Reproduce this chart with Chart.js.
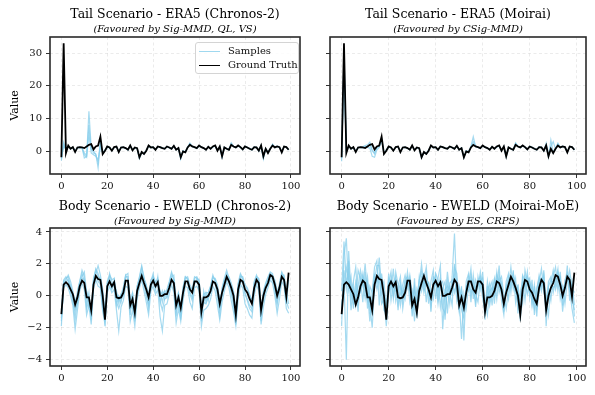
<!DOCTYPE html>
<html><head><meta charset="utf-8">
<script src="https://cdn.jsdelivr.net/npm/chart.js@4.4.0/dist/chart.umd.min.js"></script>
<style>
body{margin:0;background:#fff;width:595px;height:395px;overflow:hidden;position:relative;font-family:'DejaVu Serif',serif;}
canvas{position:absolute;}
#legend{position:absolute;left:195px;top:42px;width:104px;height:32px;border:1px solid #d4d4d4;border-radius:3px;background:rgba(255,255,255,0.85);font-size:10px;box-sizing:border-box;color:#111;}
#legend .row{position:absolute;left:3px;height:12px;line-height:12px;white-space:nowrap;}
#legend .sw{display:inline-block;width:21px;height:0;vertical-align:middle;margin-right:8px;}
</style></head>
<body>
<canvas id="c1" width="310" height="195" style="left:0;top:0"></canvas>
<canvas id="c2" width="285" height="195" style="left:310px;top:0"></canvas>
<canvas id="c3" width="310" height="200" style="left:0;top:195px"></canvas>
<canvas id="c4" width="285" height="200" style="left:310px;top:195px"></canvas>
<div id="legend">
  <div class="row" style="top:2px"><span class="sw" style="border-top:1.5px solid rgba(135,206,235,0.8)"></span>Samples</div>
  <div class="row" style="top:16px"><span class="sw" style="border-top:1.8px solid #000"></span>Ground Truth</div>
</div>
<script>
const xTicks = [0, 20, 40, 60, 80, 100];
const yTicksTail = [0, 10, 20, 30];
const yTicksBody = [-4, -2, 0, 2, 4];

const titles = ["Tail Scenario - ERA5 (Chronos-2)", "Tail Scenario - ERA5 (Moirai)", "Body Scenario - EWELD (Chronos-2)", "Body Scenario - EWELD (Moirai-MoE)"];
const subtitles = ["(Favoured by Sig-MMD, QL, VS)", "(Favoured by CSig-MMD)", "(Favoured by Sig-MMD)", "(Favoured by ES, CRPS)"];

const gtTail = [-1.8,33.0,-0.5,1.8,0.8,1.3,-0.2,1.2,1.3,1.2, 1.0,1.5,2.0,2.2,0.6,1.5,1.8,4.5,-0.8,0.2, 1.5,1.2,0.2,1.3,1.5,-0.2,1.2,1.3,1.0,0.5, 1.8,0.3,1.2,1.0,-1.8,-0.2,-0.8,0.2,1.8,1.2, 1.3,0.5,1.5,1.3,1.0,0.8,1.5,1.2,0.8,1.7, 0.5,1.0,-1.8,0.0,-0.3,1.2,2.0,1.5,1.3,1.0, 1.8,1.3,1.0,0.5,1.4,0.8,1.5,1.8,0.2,1.5, -1.5,1.2,0.8,0.5,2.0,1.5,1.2,1.8,1.3,0.6, 1.5,1.2,0.8,0.5,1.3,1.2,0.2,1.8,-1.5,0.8, -0.5,0.8,1.8,1.2,1.5,1.3,-0.3,1.5,1.3,0.5];

const tailChronosS1 = [-2.8,2.8,0.3,1.5,1.0,1.1,0.2,1.0,1.2,1.0, -1.0,-1.8,12.2,1.0,-0.5,-0.8,-5.0,2.5,-0.3,0.4, 1.3,1.0,0.4,1.2,1.3,0.0,1.1,1.2,0.9,0.6, 1.6,0.5,1.1,0.8,-2.2,-0.5,-0.6,0.4,1.6,1.1, 1.2,0.6,1.4,1.2,0.9,0.9,1.3,1.1,0.9,1.5, 0.6,0.9,-2.3,0.2,-0.1,1.1,2.3,1.4,1.2,1.1, 1.6,1.2,1.1,0.6,1.3,0.9,1.3,1.6,0.4,1.3, -1.9,1.1,0.9,0.6,2.3,1.4,1.3,1.6,1.2,0.7, 1.4,1.1,0.9,0.6,1.2,1.1,0.3,1.6,-2.3,0.9, -0.3,0.9,2.1,1.1,1.4,1.2,-0.1,1.4,1.2,0.6];
const tailChronosS2 = [-1.5,1.5,0.8,1.6,0.7,1.2,0.0,1.3,1.1,1.1, -0.5,-1.2,8.0,-0.5,-1.0,-1.5,-2.5,1.5,-0.5,0.3, 1.4,1.1,0.3,1.2,1.4,-0.1,1.2,1.2,1.0,0.4, 1.7,0.4,1.2,0.9,-1.5,-0.3,-0.7,0.3,1.7,1.2, 1.3,0.4,1.5,1.3,1.1,0.7,1.5,1.2,0.7,1.6, 0.5,1.1,-1.5,0.1,-0.2,1.3,2.5,1.6,1.2,0.9, 1.7,1.4,0.9,0.5,1.5,0.7,1.4,1.7,0.3,1.4, -1.2,1.3,0.7,0.4,2.6,1.6,1.1,1.7,1.4,0.5, 1.6,1.3,0.7,0.4,1.4,1.3,0.1,1.7,-1.8,0.7, -0.4,0.7,2.2,1.3,1.6,1.4,-0.2,1.5,1.4,0.4];
const tailChronosS3 = [-2.2,2.2,0.5,1.7,0.9,1.3,-0.1,1.1,1.3,1.2, -2.0,-1.5,5.0,0.5,0.2,-1.0,-3.5,3.0,-0.2,0.2, 1.5,1.2,0.2,1.3,1.5,-0.2,1.2,1.3,1.0,0.5, 1.8,0.3,1.2,1.0,-1.9,-0.2,-0.8,0.2,1.8,1.2, 1.3,0.5,1.5,1.3,1.0,0.8,1.5,1.2,0.8,1.7, 0.5,1.0,-1.9,0.0,-0.3,1.2,2.1,1.5,1.3,1.0, 1.8,1.3,1.0,0.5,1.4,0.8,1.5,1.8,0.2,1.5, -1.6,1.2,0.8,0.5,2.1,1.5,1.2,1.8,1.3,0.6, 1.5,1.2,0.8,0.5,1.3,1.2,0.2,1.8,-1.6,0.8, -0.5,0.8,1.9,1.2,1.5,1.3,-0.3,1.5,1.3,0.5];

const tailMoiraiS1 = [-3.0,30.0,0.5,1.5,1.0,1.0,0.1,1.1,1.2,1.4, 1.8,2.0,2.8,0.5,-0.5,1.2,1.5,3.5,-0.5,0.5, 1.3,1.1,0.4,1.2,1.3,0.0,1.1,1.2,0.9,0.6, 1.6,0.5,1.1,0.8,-2.0,-0.4,-0.6,0.4,1.6,1.1, 1.2,0.6,1.4,1.2,0.9,0.9,1.3,1.1,0.9,1.5, 0.6,0.9,-1.9,0.2,-0.1,1.5,4.5,1.4,1.2,1.1, 1.6,1.2,1.1,0.6,1.3,0.9,1.3,1.6,0.4,1.3, -1.7,1.1,0.9,0.6,2.4,1.4,1.3,1.6,1.2,0.7, 1.4,1.1,0.9,0.6,1.2,1.1,0.3,1.6,-1.8,3.5, -0.3,0.9,2.5,1.1,1.4,1.2,-0.1,1.4,1.2,0.6];
const tailMoiraiS2 = [-1.0,25.0,0.2,1.7,0.7,1.2,0.0,1.3,1.1,1.0, 1.5,1.2,1.0,-1.5,-1.8,0.5,1.2,3.8,-0.6,0.3, 1.4,1.1,0.3,1.2,1.4,-0.1,1.2,1.2,1.0,0.4, 1.7,0.4,1.2,0.9,-1.5,-0.3,-0.7,0.3,1.7,1.2, 1.3,0.4,1.5,1.3,1.1,0.7,1.5,1.2,0.7,1.6, 0.5,1.1,-1.6,0.1,-0.2,1.3,3.0,1.6,1.2,0.9, 1.7,1.4,0.9,0.5,1.5,0.7,1.4,1.7,0.3,1.4, -1.3,1.3,0.7,0.4,2.6,1.6,1.1,1.7,1.4,0.5, 1.6,1.3,0.7,0.4,1.4,1.3,0.1,2.5,-1.0,1.5, 3.0,0.7,2.2,1.3,1.6,1.4,-0.2,1.5,1.4,0.4];
const tailMoiraiS3 = [-2.0,28.0,-0.3,1.6,0.9,1.3,-0.1,1.1,1.3,1.3, 1.2,1.6,2.2,0.2,-0.8,1.4,1.7,4.0,-0.7,0.2, 1.5,1.2,0.2,1.3,1.5,-0.2,1.2,1.3,1.0,0.5, 1.8,0.3,1.2,1.0,-1.8,-0.2,-0.8,0.2,1.8,1.2, 1.3,0.5,1.5,1.3,1.0,0.8,1.5,1.2,0.8,1.7, 0.5,1.0,-1.8,0.0,-0.3,1.2,2.2,1.5,1.3,1.0, 1.8,1.3,1.0,0.5,1.4,0.8,1.5,1.8,0.2,1.5, -1.5,1.2,0.8,0.5,2.0,1.5,1.2,1.8,1.3,0.6, 1.5,1.2,0.8,0.5,1.3,1.2,0.2,1.8,-1.5,0.8, -0.5,0.8,1.8,1.2,1.5,1.3,-0.3,1.5,1.3,0.5];

const gtBody = [-1.15,0.7,0.85,0.7,0.4,0.1,-0.55,-0.1,0.6,0.95, 0.8,-0.1,-0.1,-0.9,0.7,1.25,1.05,1.0,0.0,-1.5, 0.6,0.9,0.6,0.85,-0.1,-0.15,-0.1,0.2,0.95,0.95, -0.6,-0.2,-1.05,0.3,0.8,1.25,0.8,0.4,-0.1,0.7, 0.95,0.6,0.85,0.0,0.0,0.1,0.1,0.5,1.0,0.8, -0.6,-0.1,-0.75,0.2,0.9,0.9,0.4,0.2,0.9,0.9, 0.7,-1.0,-0.1,-0.1,0.0,0.3,0.9,0.8,0.4,-0.5, 0.2,0.7,1.2,0.9,0.5,0.0,-1.2,0.4,1.0,0.9, 0.4,0.2,-0.2,-0.5,0.5,1.0,0.8,-0.9,0.0,0.5, 0.8,1.3,1.2,0.7,0.0,0.5,1.2,1.0,-0.05,1.45];

const bodyChronosS1 = [-1.9,0.9,1.1,1.2,0.6,-0.4,-1.0,0.3,0.9,1.6, 1.2,-0.6,0.2,-1.5,1.0,1.7,1.4,0.9,-0.5,-1.9, 0.8,1.2,0.5,1.0,-0.6,0.0,-0.4,0.5,1.3,1.4, -1.2,0.2,-1.6,0.6,1.1,1.8,1.2,0.2,-0.8,0.9, 1.4,0.4,1.2,-0.5,0.3,-0.2,0.4,0.9,1.5,1.0, -1.3,0.2,-1.5,0.5,1.2,1.1,0.1,-0.3,1.1,1.2, 0.9,-1.6,0.3,-0.4,0.2,0.6,1.2,1.0,0.0,-1.2, 0.5,1.1,1.6,1.1,0.2,-0.6,-1.8,0.8,1.4,1.1, 0.1,-0.3,-0.8,-1.0,0.9,1.3,0.9,-1.6,0.3,0.8, 1.2,1.5,1.4,0.3,-0.6,0.8,1.5,1.2,-0.5,1.0];
const bodyChronosS2 = [-0.9,0.8,1.0,1.3,0.9,0.3,-0.8,-0.5,0.8,1.2, 1.5,0.2,-0.7,-1.2,0.9,1.4,1.9,1.3,0.4,-1.2, 0.4,1.4,0.9,0.6,0.3,-0.5,0.1,0.0,1.2,1.2, -0.2,-0.8,-0.7,0.1,1.0,1.4,1.1,0.7,-0.4,0.5, 1.2,0.9,0.7,0.3,-0.4,0.3,-0.1,0.7,1.2,1.3, -0.3,-0.6,-1.1,0.0,1.1,1.2,0.7,0.4,0.7,1.1, 1.0,-0.7,-0.5,0.2,-0.3,0.5,1.1,1.1,0.7,-0.3, 0.0,0.9,1.4,1.2,0.8,0.3,-0.9,0.1,1.2,1.2, 0.7,0.5,0.1,-0.3,0.3,1.2,1.1,-0.5,-0.3,0.6, 1.0,1.4,1.3,1.0,0.3,0.2,1.3,1.3,0.3,1.2];
const bodyChronosS3 = [-1.4,0.5,0.7,0.5,0.0,-0.6,-2.1,-0.9,0.3,0.8, 0.4,-1.2,-0.6,-1.8,0.4,1.0,0.6,0.5,-1.0,-1.7, 0.2,0.6,0.2,0.4,-0.9,-2.2,-0.7,-0.3,0.6,0.5, -1.6,-0.9,-1.9,-0.2,0.5,1.0,0.3,-0.4,-1.2,0.3, 0.6,0.1,0.4,-1.3,-2.2,-0.6,-0.5,0.1,0.7,0.2, -1.7,-0.8,-1.6,-0.3,0.6,0.5,-0.4,-0.8,0.5,0.6, 0.3,-1.9,-0.9,-0.8,-0.6,-0.2,0.6,0.3,-0.6,-1.5, -0.4,0.3,0.9,0.5,-0.3,-1.0,-1.9,-0.2,0.7,0.5, -0.5,-0.8,-1.2,-1.4,0.0,0.7,0.3,-1.8,-0.7,0.1, 0.5,1.0,0.8,0.0,-1.1,-0.2,0.9,0.6,-0.8,-1.1];
const bodyChronosS4 = [-1.2,1.0,1.2,0.9,0.6,0.2,-0.3,0.1,0.9,1.4, 0.9,0.3,-0.2,-1.0,1.1,1.6,1.2,1.1,0.3,-1.1, 0.9,1.3,1.0,1.1,0.2,-0.3,0.1,0.5,1.3,1.0, -0.4,0.2,-1.0,0.6,1.2,1.9,1.0,0.6,0.1,1.0, 1.2,0.8,1.1,0.3,0.1,0.3,0.3,0.8,1.4,1.0, -0.5,0.2,-0.6,0.5,1.2,1.0,0.5,0.4,1.2,1.1, 0.8,-0.9,0.1,0.2,0.2,0.6,1.3,0.9,0.5,-0.4, 0.4,1.0,1.3,1.0,0.6,0.2,-1.0,0.7,1.3,1.0, 0.6,0.4,0.0,-0.3,0.8,1.2,1.0,-0.8,0.2,0.7, 1.1,1.4,1.2,0.8,0.2,0.7,1.4,1.1,0.2,-0.5];
const bodyChronosS5 = [-1.6,0.6,0.9,1.0,0.2,-0.2,-1.5,-0.3,0.5,1.1, 1.0,-0.8,-0.3,-1.3,0.6,1.3,0.9,0.7,-0.7,-1.4, 0.5,0.9,0.4,0.7,-0.4,-0.8,-0.3,0.1,0.9,0.8, -0.9,-0.5,-1.3,0.1,0.9,1.5,0.6,0.0,-0.6,0.5, 0.9,0.5,0.8,-0.3,-0.9,-0.2,-0.1,0.4,1.1,0.6, -1.0,-0.3,-1.2,0.1,0.8,0.8,0.2,-0.1,0.8,0.9, 0.5,-1.3,-0.4,-0.5,-0.1,0.2,0.9,0.7,0.1,-0.9, 0.0,0.6,1.1,0.8,0.2,-0.4,-1.5,0.3,0.9,0.8, 0.2,-0.2,-0.6,-0.8,0.4,0.9,0.6,-1.2,-0.2,0.4, 0.7,1.2,1.0,0.5,-0.4,0.3,1.1,0.9,-0.3,-0.8];

const bodyMoiraiS1 = [-1.9,2.5,3.6,0.4,1.2,-0.8,0.5,-1.0,1.2,0.6, 2.0,0.2,-1.6,0.3,1.8,2.2,-0.6,1.4,0.2,-1.5, 1.0,0.3,1.7,-0.3,0.6,1.2,-0.8,0.3,1.5,0.2, -0.9,1.1,-1.4,0.8,2.0,0.5,1.3,-0.5,0.9,1.6, -0.2,1.1,1.9,-2.1,0.4,0.6,-0.5,1.2,3.9,0.2, -1.0,0.6,-2.8,0.9,1.4,0.1,0.8,-0.7,1.2,0.4, 1.5,-1.1,0.3,0.8,-0.6,1.0,0.5,1.9,-0.3,-1.2, 0.9,1.4,0.2,1.6,-0.4,0.7,-1.6,1.1,0.4,1.5, -0.1,1.0,-1.2,0.3,1.3,0.6,1.6,-1.9,0.5,-0.3, 1.2,1.8,0.3,1.5,-0.6,1.0,1.4,0.4,-0.8,-1.7];
const bodyMoiraiS2 = [-1.2,1.0,-4.0,2.8,0.2,0.9,1.8,-0.4,0.5,1.4, 0.3,1.2,-0.5,-2.0,0.6,1.0,2.4,0.5,0.9,-0.8, 1.4,-0.3,0.8,1.2,-0.5,0.1,0.7,1.3,0.5,1.3, 0.2,-1.6,0.4,-0.2,1.2,1.4,-0.4,0.9,-1.0,1.2, 1.0,-0.5,0.7,0.9,-0.3,1.5,0.2,-0.6,1.8,1.4, -0.2,-2.7,0.1,-0.8,0.7,1.7,-0.2,1.0,0.5,1.5, 0.3,-0.4,-1.2,0.5,0.9,-0.5,1.3,0.9,1.2,0.1, -0.8,0.5,1.8,0.4,1.1,-1.1,0.3,-0.5,1.6,0.8, 1.1,-0.6,0.6,-1.3,0.8,1.7,0.2,-0.4,0.9,1.2, 0.2,1.0,1.7,-0.2,0.6,-0.5,0.9,1.6,0.5,0.2];
const bodyMoiraiS3 = [0.3,3.4,0.8,1.5,-0.9,0.4,-0.3,1.6,1.1,-0.4, 1.5,-0.8,0.6,0.2,1.2,0.4,1.1,-0.5,-0.2,-1.9, 0.2,1.1,0.0,1.5,0.7,-0.6,0.4,-0.2,1.0,0.7, -1.3,0.3,-0.6,1.2,0.3,1.0,1.8,0.1,0.4,-0.2, 1.4,1.0,-0.7,0.5,0.9,-1.1,0.8,1.0,0.2,0.9, 0.5,-0.9,-1.4,0.5,1.2,-0.4,1.3,0.1,-0.4,1.0, 0.6,-1.5,0.6,-0.6,0.3,1.1,-0.2,1.3,0.6,-0.8, 0.6,-0.2,1.2,0.8,0.2,0.6,-1.4,0.9,-0.3,1.2, 0.9,-0.5,0.7,-0.8,0.2,0.8,1.3,-0.2,-1.2,0.8, 1.6,0.4,1.0,1.2,-1.0,0.4,1.9,-0.3,0.9,-0.6];
const bodyMoiraiS4 = [-0.6,0.4,1.8,1.0,0.6,-0.5,0.9,0.3,0.2,1.2, 0.7,-0.3,0.2,-1.2,1.0,1.9,1.9,0.1,-0.6,-1.2, 0.4,0.8,0.5,0.3,0.2,0.8,-0.3,0.9,0.6,1.1, -0.5,0.6,-1.2,0.4,0.6,0.9,0.7,0.4,-0.4,1.1, 0.7,0.3,1.2,-0.8,-1.1,0.3,0.6,0.1,2.0,0.6, -0.8,0.4,-0.5,0.1,0.9,1.0,0.2,0.6,0.6,0.8, 1.1,-0.5,0.0,0.3,0.5,0.0,1.0,0.6,0.2,-0.3, 0.3,1.0,1.1,1.2,0.3,0.1,-0.8,0.5,1.2,0.7, 0.2,0.6,-0.4,-0.2,0.9,1.1,0.6,-0.9,0.3,0.4, 0.9,1.2,1.4,0.6,0.3,0.8,1.0,1.2,-0.2,-0.9];
const bodyMoiraiS5 = [-1.0,1.6,0.4,2.2,-0.3,0.7,-0.6,0.6,1.6,0.9, -0.2,0.8,-1.0,-0.6,1.3,0.8,1.4,0.9,-0.9,-1.1, 0.8,1.5,-0.2,0.9,-0.9,0.5,0.2,1.0,1.2,-0.4, 0.3,-0.8,-0.3,1.0,1.5,0.2,0.9,0.8,-0.7,0.6, 1.3,-0.2,0.9,0.2,-1.5,0.9,0.1,0.7,1.3,-0.3, 0.6,-0.2,-0.9,0.6,0.3,1.3,0.5,-0.4,0.9,1.2, -0.2,-0.9,0.9,-0.2,0.6,0.4,1.5,0.2,0.8,-1.0, 0.5,1.2,0.6,1.4,0.7,-0.5,-0.2,1.3,0.9,0.1, 0.8,0.2,-0.8,0.5,1.1,0.3,1.2,-0.6,0.6,1.0, 0.5,0.7,1.5,1.0,0.1,0.6,1.2,0.3,0.6,-1.3];

const FONT = "'DejaVu Serif', serif";
const SAMPLE_COLOR = 'rgba(135,206,235,0.75)';

const frame = {
  id: 'frame',
  afterDatasetsDraw(chart) {
    const a = chart.chartArea, ctx = chart.ctx;
    ctx.save();
    ctx.strokeStyle = '#2a2a2a';
    ctx.lineWidth = 1.6;
    ctx.strokeRect(a.left, a.top, a.right - a.left, a.bottom - a.top);
    ctx.restore();
  }
};

function pts(arr) { return arr.map((v, i) => ({ x: i, y: v })); }
function fmt(v) { return v < 0 ? '\u2212' + Math.abs(v) : String(v); }

function makeChart(id, p) {
  const datasets = [{ label: 'Ground Truth', data: pts(p.gt), borderColor: '#000', borderWidth: 1.8 }];
  p.samples.forEach((s, k) => datasets.push({ label: k === 0 ? 'Samples' : '', data: pts(s), borderColor: SAMPLE_COLOR, borderWidth: 1.2 }));
  datasets.forEach(d => { d.pointRadius = 0; d.tension = 0; d.fill = false; });
  new Chart(document.getElementById(id), {
    type: 'line',
    data: { datasets },
    plugins: [frame],
    options: {
      responsive: false, animation: false, devicePixelRatio: 1,
      layout: { padding: { left: 0, right: p.padRight, top: 0, bottom: 0 } },
      plugins: {
        legend: { display: false }, tooltip: { enabled: false },
        title: { display: true, text: p.title, fullSize: false, color: '#000',
          font: { family: FONT, size: 12.5, weight: 'normal', lineHeight: 1.2 }, padding: { top: p.tTop, bottom: 0 } },
        subtitle: { display: true, text: p.sub, fullSize: false, color: '#000',
          font: { family: FONT, size: 10, style: 'italic', weight: 'normal', lineHeight: 1.2 }, padding: { top: 1, bottom: p.sBot } }
      },
      scales: {
        x: {
          type: 'linear', min: -4.95, max: 103.95,
          afterBuildTicks: s => { s.ticks = xTicks.map(v => ({ value: v })); },
          afterFit: s => { s.height = p.xH; },
          ticks: { autoSkip: false, maxRotation: 0, padding: 2, color: '#111', font: { family: FONT, size: 10 }, callback: v => fmt(v) },
          grid: { color: 'rgba(0,0,0,0.1)', lineWidth: 0.8, tickLength: 4, tickColor: '#333', tickWidth: 1 },
          border: { display: false, dash: [3, 2.5] }
        },
        y: {
          min: p.yMin, max: p.yMax,
          afterBuildTicks: s => { s.ticks = p.yTicks.map(v => ({ value: v })); },
          afterFit: s => { s.width = p.yW; },
          ticks: { padding: 4, color: '#111', font: { family: FONT, size: 10 }, callback: v => p.showY ? fmt(v) : '' },
          grid: { color: 'rgba(0,0,0,0.1)', lineWidth: 0.8, tickLength: 4, tickColor: '#333', tickWidth: 1 },
          border: { display: false, dash: [3, 2.5] },
          title: { display: p.showY, text: 'Value', color: '#000', font: { family: FONT, size: 11 }, padding: { top: 9, bottom: 0 } }
        }
      }
    }
  });
}

makeChart('c1', { gt: gtTail, samples: [tailChronosS1, tailChronosS2, tailChronosS3], title: titles[0], sub: subtitles[0],
  yMin: -6.9, yMax: 34.9, yTicks: yTicksTail, showY: true, yW: 50, xH: 21, padRight: 10, tTop: 7, sBot: 2 });
makeChart('c2', { gt: gtTail, samples: [tailMoiraiS1, tailMoiraiS2, tailMoiraiS3], title: titles[1], sub: subtitles[1],
  yMin: -6.9, yMax: 34.9, yTicks: yTicksTail, showY: false, yW: 20, xH: 21, padRight: 9, tTop: 7, sBot: 2 });
makeChart('c3', { gt: gtBody, samples: [bodyChronosS1, bodyChronosS2, bodyChronosS3, bodyChronosS4, bodyChronosS5], title: titles[2], sub: subtitles[2],
  yMin: -4.4, yMax: 4.25, yTicks: yTicksBody, showY: true, yW: 50, xH: 29, padRight: 10, tTop: 4, sBot: 1 });
makeChart('c4', { gt: gtBody, samples: [bodyMoiraiS1, bodyMoiraiS2, bodyMoiraiS3, bodyMoiraiS4, bodyMoiraiS5], title: titles[3], sub: subtitles[3],
  yMin: -4.4, yMax: 4.25, yTicks: yTicksBody, showY: false, yW: 20, xH: 29, padRight: 9, tTop: 4, sBot: 1 });
</script>
</body></html>
